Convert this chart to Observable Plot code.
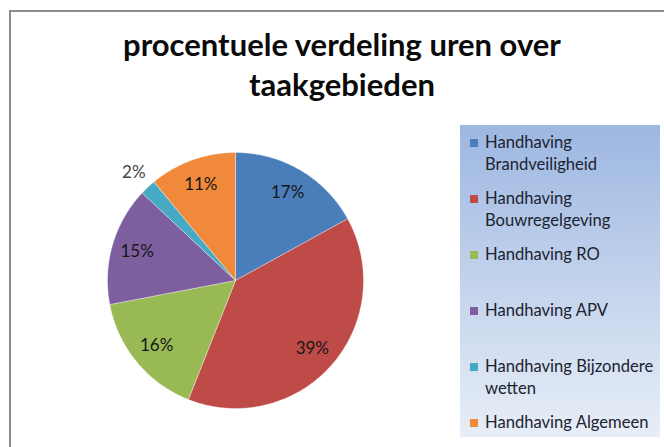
<!DOCTYPE html>
<html>
<head>
<meta charset="utf-8">
<script src="https://cdn.jsdelivr.net/npm/d3@7"></script>
<script src="https://cdn.jsdelivr.net/npm/@observablehq/plot@0.6"></script>
<style>
  html, body { margin: 0; padding: 0; background: #fff; }
  #wrap { position: relative; width: 664px; height: 447px; overflow: hidden; font-family: Lato, "Open Sans", sans-serif; }
  #frame { position: absolute; left: 9px; top: 10px; right: -5px; bottom: -5px; border-left: 2px solid #8c8c8c; border-top: 2px solid #8c8c8c; }
  #title { position: absolute; left: 0; width: 684px; top: 24px; text-align: center; font-weight: 700; font-size: 31px; line-height: 40px; color: #0a0a0a; }
  #legendBox { position: absolute; left: 460px; top: 125px; width: 200px; height: 312px; background: linear-gradient(#9db7e1, #e8eef7); }
  #legend { position: absolute; left: 470px; top: 131px; width: 190px; }
  .item { position: relative; height: 56px; }
  .sw { position: absolute; left: 0; top: 8px; width: 8px; height: 8px; }
  .lab { position: absolute; left: 15px; top: 0; font-size: 16.6px; line-height: 22px; color: #1c2330; width: 185px; }
  #chart { position: absolute; left: 0; top: 0; }
</style>
</head>
<body>
<div id="wrap">
  <div id="frame"></div>
  <div id="title">procentuele verdeling uren over<br>taakgebieden</div>
  <div id="legendBox"></div>
  <div id="legend"></div>
  <div id="chart"></div>
</div>
<script>
const categories = [
  "Handhaving Brandveiligheid",
  "Handhaving Bouwregelgeving",
  "Handhaving RO",
  "Handhaving APV",
  "Handhaving Bijzondere wetten",
  "Handhaving Algemeen"
];
const legendLabels = [
  ["Handhaving", "Brandveiligheid"],
  ["Handhaving", "Bouwregelgeving"],
  ["Handhaving RO"],
  ["Handhaving APV"],
  ["Handhaving Bijzondere", "wetten"],
  ["Handhaving Algemeen"]
];
const values = [17, 39, 16, 15, 2, 11];
const colors = ["#4a7ebb", "#be4b48", "#98b954", "#7d5fa0", "#46aac5", "#f08a3a"];

// Build slice polygons (clockwise from 12 o'clock) from the values
const total = d3.sum(values);
const slices = [];
const points = [];
let acc = 0;
values.forEach((v, i) => {
  const a0 = acc / total * 2 * Math.PI;
  const a1 = (acc + v) / total * 2 * Math.PI;
  acc += v;
  const name = categories[i];
  points.push({name, x: 0, y: 0});
  const n = Math.max(2, Math.ceil((a1 - a0) / (Math.PI / 180)));
  for (let k = 0; k <= n; k++) {
    const a = a0 + (a1 - a0) * k / n;
    points.push({name, x: Math.sin(a), y: Math.cos(a)});
  }
  points.push({name, x: 0, y: 0});
  const am = (a0 + a1) / 2;
  const r = v / total < 0.05 ? 1.16 : 0.8;
  slices.push({name, label: v + "%", x: r * Math.sin(am), y: r * Math.cos(am), inside: r < 1});
});

const chart = Plot.plot({
  width: 664,
  height: 447,
  margin: 0,
  x: {domain: [-1, 1], range: [107, 363], axis: null},
  y: {domain: [-1, 1], range: [408, 152], axis: null},
  color: {domain: categories, range: colors},
  style: {background: "transparent", overflow: "visible"},
  marks: [
    Plot.line(points, {x: "x", y: "y", z: "name", fill: "name", stroke: "white", strokeWidth: 0.6, strokeOpacity: 0.6}),
    Plot.text(slices, {x: "x", y: "y", text: "label", fill: d => d.inside ? "#161616" : "#444", fontSize: 17, fontFamily: "Lato, sans-serif"})
  ]
});
document.getElementById("chart").appendChild(chart);

const colorScale = chart.scale("color");
const legend = d3.select("#legend");
categories.forEach((c, i) => {
  const item = legend.append("div").attr("class", "item");
  item.append("div").attr("class", "sw").style("background", colorScale.apply(c));
  item.append("div").attr("class", "lab").html(legendLabels[i].join("<br>"));
});
</script>
</body>
</html>
